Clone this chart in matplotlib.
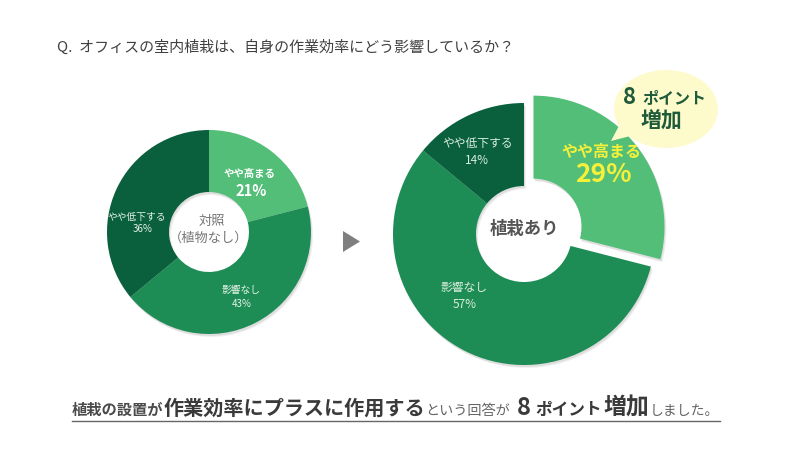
import matplotlib
matplotlib.use('Agg')
import matplotlib.pyplot as plt
from matplotlib.patches import Ellipse, Polygon

plt.rcParams['font.family'] = ['Noto Sans CJK JP', 'DejaVu Sans']

# データ
categories = ['やや高まる', '影響なし', 'やや低下する']
control_vals = [21, 43, 36]     # 対照（植物なし）
plant_vals = [29, 57, 14]       # 植栽あり
colors = ['#52BE78', '#1E8C55', '#0A603D']

title = 'Q.  オフィスの室内植栽は、自身の作業効率にどう影響しているか？'
summary = [  # (文字, サイズ, 太字, 色, 後ろの余白px)
    ('植栽の設置が', 11, 'bold', '#4a4a4a', 0),
    ('作業効率にプラスに作用する', 14.5, 'bold', '#3a3a3a', 0),
    ('という回答が', 10.2, 'normal', '#666666', 7),
    ('8', 17, 'bold', '#3a3a3a', 4),
    ('ポイント', 12, 'bold', '#3a3a3a', 2),
    ('増加', 16.5, 'bold', '#3a3a3a', 1),
    ('しました。', 10, 'normal', '#666666', 0),
]

H = 450
fig = plt.figure(figsize=(8, 4.5), dpi=100)
ax = fig.add_axes([0, 0, 1, 1])


def Y(y):
    return H - y


# うすい影
for dx, dy, a in [(2, -3, 0.06), (1, -2, 0.08)]:
    ax.pie(control_vals, colors=['black'] * 3, startangle=90, counterclock=False,
           radius=102, center=(209 + dx, Y(232) + dy),
           wedgeprops=dict(width=62, edgecolor='none', alpha=a))
    ax.pie(plant_vals, colors=['black'] * 3, startangle=90, counterclock=False,
           radius=131, center=(524 + dx, Y(234) + dy), explode=[12, 0, 0],
           wedgeprops=dict(width=83, edgecolor='none', alpha=a))

# 左：対照
ax.pie(control_vals, colors=colors, startangle=90, counterclock=False,
       radius=102, center=(209, Y(232)),
       wedgeprops=dict(width=62, edgecolor='none'))
# 右：植栽あり
ax.pie(plant_vals, colors=colors, startangle=90, counterclock=False,
       radius=131, center=(524, Y(234)), explode=[12, 0, 0],
       wedgeprops=dict(width=83, edgecolor='none'))

ax.set_xlim(0, 800)
ax.set_ylim(0, 450)
ax.set_aspect('auto')
ax.axis('off')

# 左のラベル
ax.text(250, Y(174), categories[0], color='white', fontsize=7.5,
        fontweight='bold', ha='center', va='center')
ax.text(251, Y(191), f'{control_vals[0]}%', color='white', fontsize=10.5,
        fontweight='bold', ha='center', va='center')
ax.text(241, Y(290), categories[1], color='#e6f3ea', fontsize=7,
        ha='center', va='center')
ax.text(242, Y(304), f'{control_vals[1]}%', color='#e6f3ea', fontsize=7,
        ha='center', va='center')
ax.text(137, Y(217), categories[2], color='#e6f3ea', fontsize=7,
        ha='center', va='center')
ax.text(143, Y(229), f'{control_vals[2]}%', color='#e6f3ea', fontsize=7,
        ha='center', va='center')
ax.text(212, Y(221), '対照', color='#777777', fontsize=9.5,
        ha='center', va='center')
ax.text(209, Y(238), '（植物なし）', color='#777777', fontsize=9.5,
        ha='center', va='center')

# 右のラベル
ax.text(601, Y(152), categories[0], color='#F5F03A', fontsize=11.5,
        fontweight='bold', ha='center', va='center')
ax.text(603, Y(174), f'{plant_vals[0]}%', color='#F5F03A', fontsize=19,
        fontweight='bold', ha='center', va='center')
ax.text(464, Y(287), categories[1], color='#d8eedd', fontsize=8.5,
        ha='center', va='center')
ax.text(465, Y(304), f'{plant_vals[1]}%', color='#d8eedd', fontsize=8.5,
        ha='center', va='center')
ax.text(478, Y(144), categories[2], color='#d8eedd', fontsize=8.5,
        ha='center', va='center')
ax.text(477, Y(161), f'{plant_vals[2]}%', color='#d8eedd', fontsize=8.5,
        ha='center', va='center')
ax.text(524, Y(229), '植栽あり', color='#555555', fontsize=12.5,
        fontweight='bold', ha='center', va='center')

# 矢印
ax.add_patch(Polygon([(343, Y(231)), (343, Y(252)), (360, Y(241.5))],
                     closed=True, color='#7f7f7f', lw=0))

# 吹き出し
bub = '#FDFBCB'
ax.add_patch(Ellipse((666, Y(109)), 104, 78, color=bub, lw=0))
ax.add_patch(Polygon([(622, Y(120)), (611, Y(141)), (638, Y(134))],
                     closed=True, color=bub, lw=0))
ax.text(629, Y(98), '8', color='#1F5A3A', fontsize=16, fontweight='bold',
        ha='center', va='center')
ax.text(674, Y(98), 'ポイント', color='#1F5A3A', fontsize=11.5,
        fontweight='bold', ha='center', va='center')
ax.text(661, Y(121), '増加', color='#1F5A3A', fontsize=15,
        fontweight='bold', ha='center', va='center')

# タイトル
ax.text(57, Y(47), title, color='#404040', fontsize=10.8,
        ha='left', va='center')

# 下の一文（文字を順に並べる）
fig.canvas.draw()
r = fig.canvas.get_renderer()
x = 72
for s, size, weight, col, gap in summary:
    t = ax.text(x, Y(415), s, fontsize=size, fontweight=weight, color=col,
                ha='left', va='baseline')
    bb = t.get_window_extent(renderer=r)
    x += bb.width + gap
ax.plot([72, x], [Y(421), Y(421)], color='#666666', lw=1)

fig.savefig('out.png', dpi=100)
